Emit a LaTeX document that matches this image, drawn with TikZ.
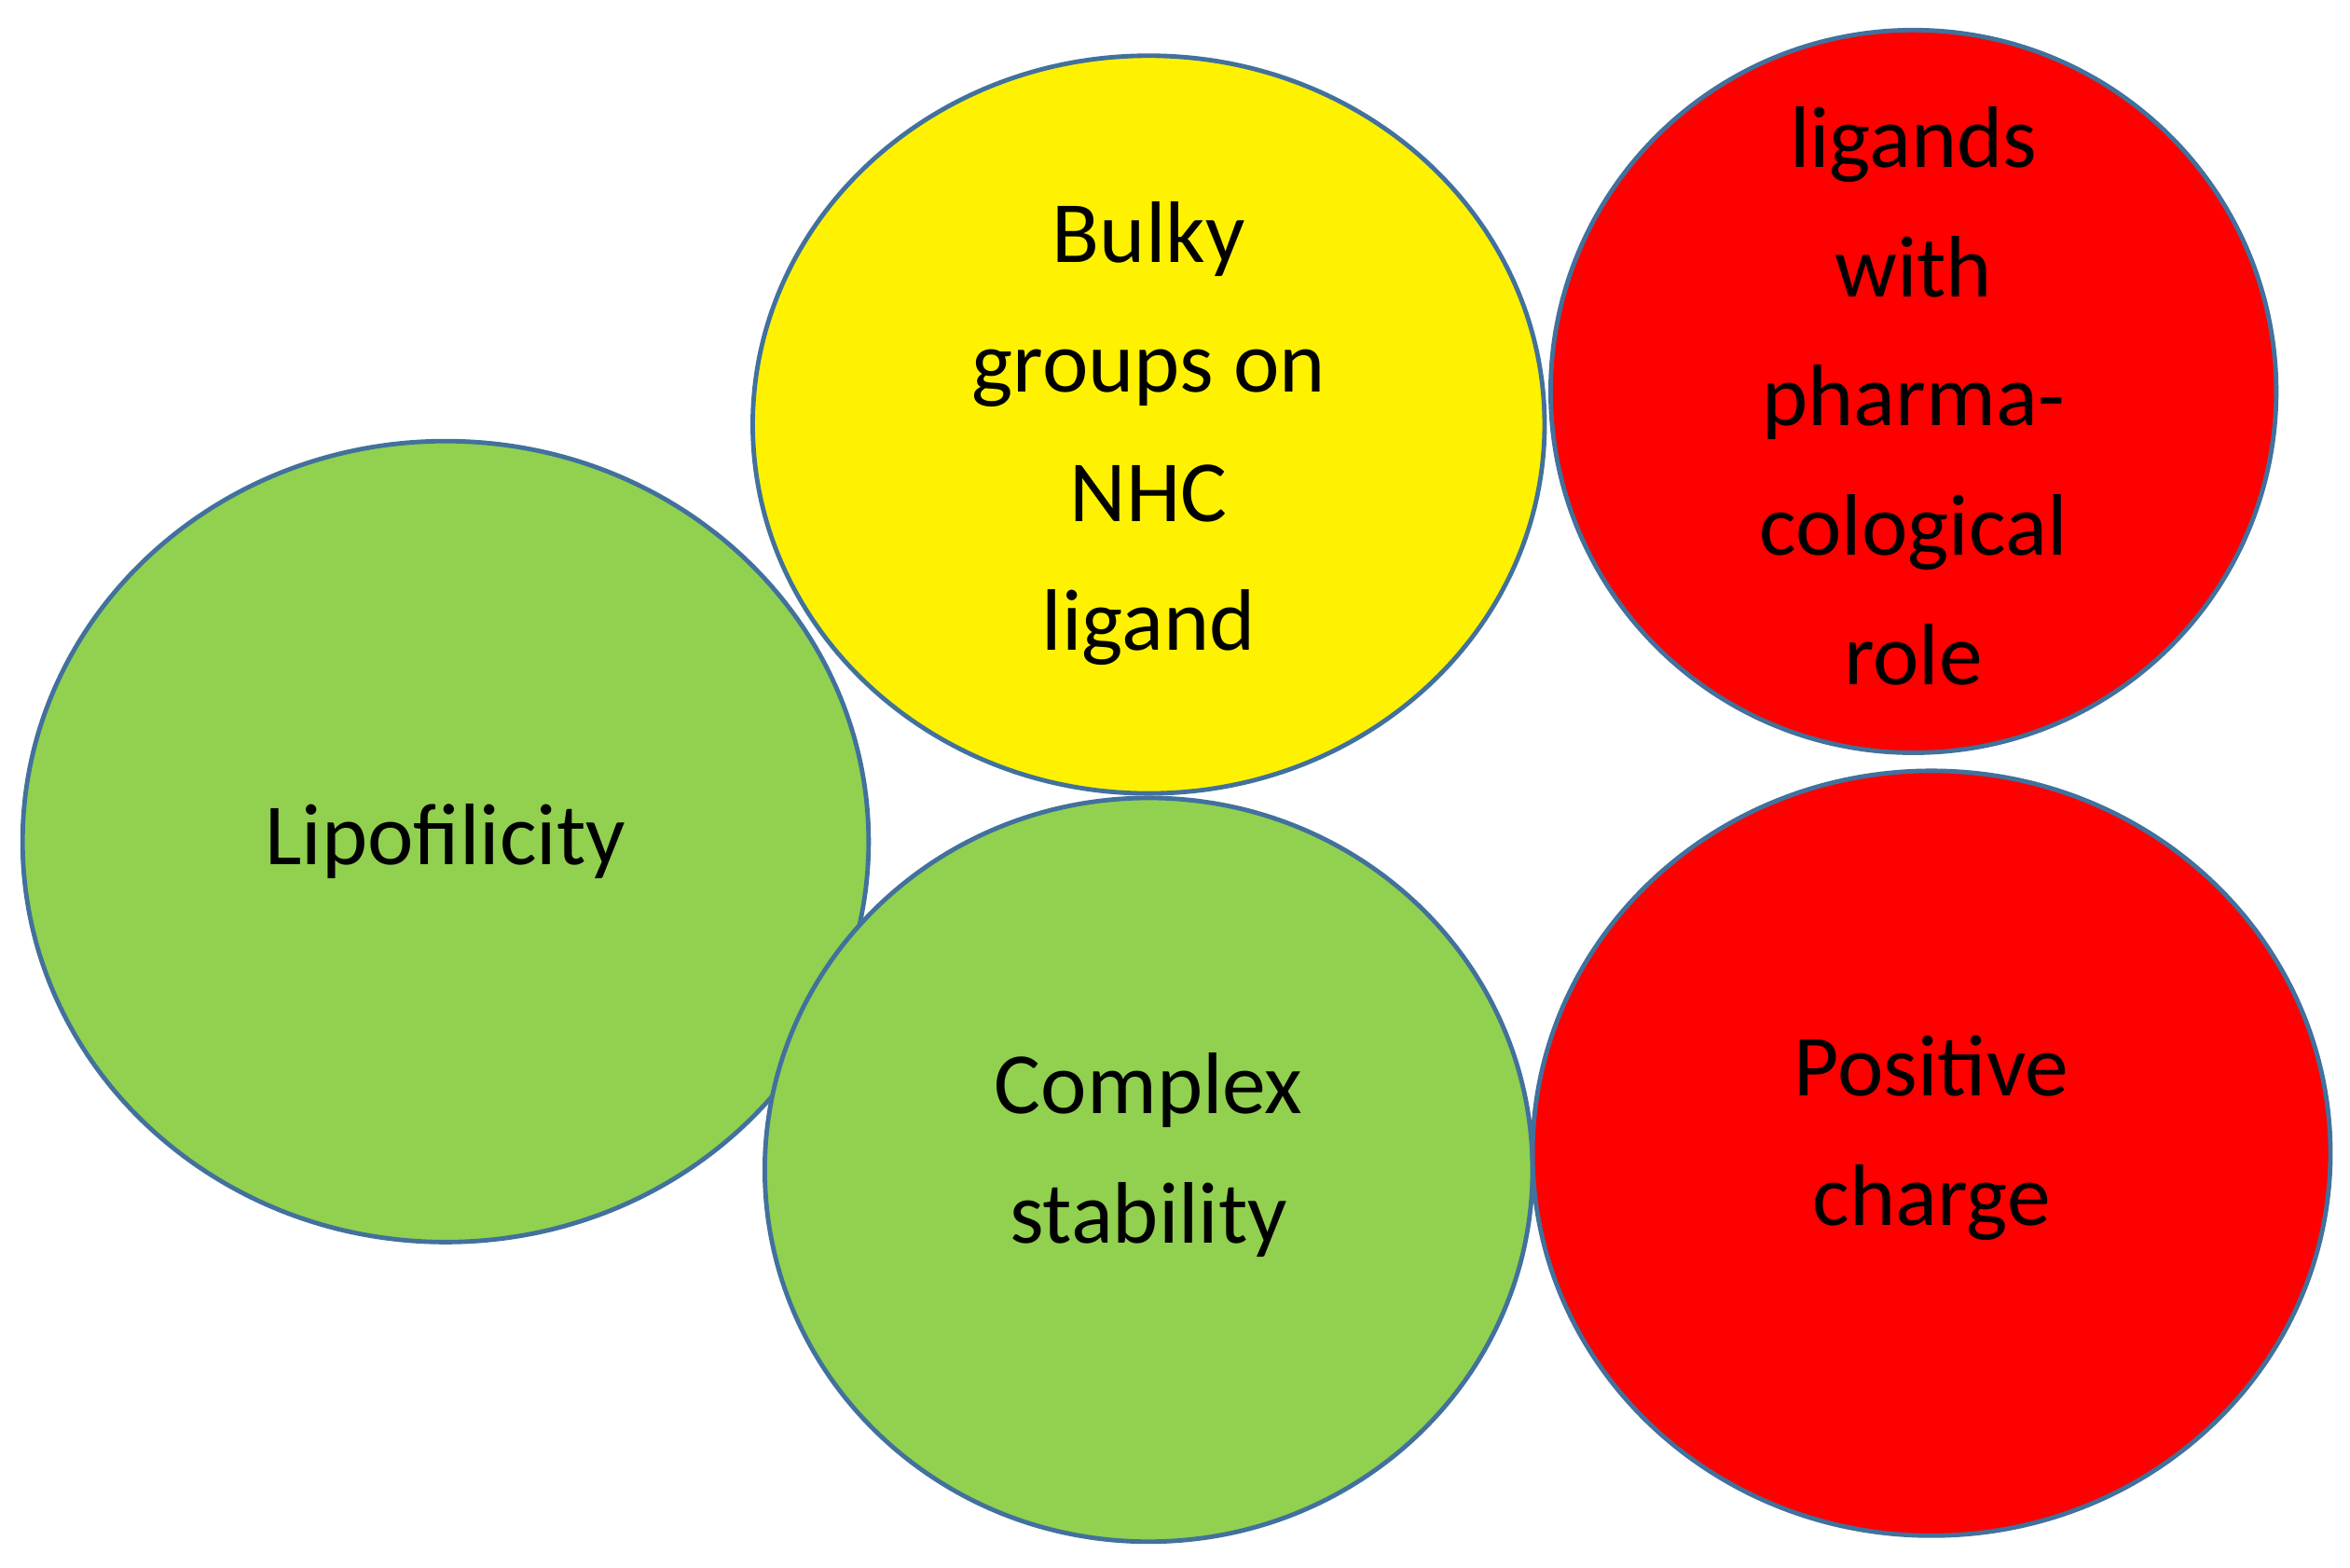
\documentclass[tikz,border=0pt]{standalone}
\usepackage{fontspec}
\setmainfont{Carlito}
\definecolor{edge}{HTML}{41719C}
\definecolor{gr}{HTML}{92D050}
\begin{document}
\begin{tikzpicture}[x=1pt,y=-1pt,
  bub/.style={draw=edge,line width=3pt},
  txt/.style={align=center,font=\fontsize{58}{86}\selectfont}]
\useasboundingbox (0,0) rectangle (1561,1041);
\fill[white] (0,0) rectangle (1561,1041);
\draw[bub,fill=gr] (296,559) ellipse [x radius=281,y radius=266];
\draw[bub,fill=yellow] (763,282) ellipse [x radius=263,y radius=245];
\draw[bub,fill=red] (1271,260) ellipse [x radius=241,y radius=240];
\draw[bub,fill=gr] (763,777) ellipse [x radius=255,y radius=247];
\draw[bub,fill=red] (1283,766) ellipse [x radius=265,y radius=254];
\node[txt] (a) at (296,559) {Lipofilicity};
\node[txt] (b) at (763,288) {Bulky\\groups on\\NHC\\ligand};
\node[txt] (c) at (1271,263) {ligands\\with\\pharma-\\cological\\role};
\node[txt] (d) at (763,767) {Complex\\stability};
\node[txt] (e) at (1283,756) {Positive\\charge};
\end{tikzpicture}
\end{document}
